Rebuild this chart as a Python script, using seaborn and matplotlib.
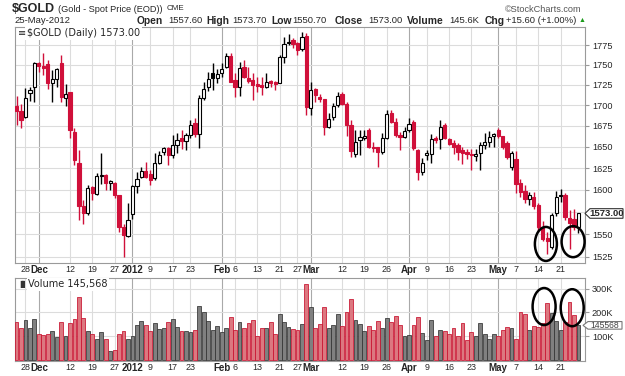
import numpy as np
import pandas as pd
import matplotlib
matplotlib.use("Agg")
import matplotlib.pyplot as plt
import matplotlib.ticker as mticker
from matplotlib.patches import Ellipse, Polygon
import seaborn as sns

# ---------------- data ----------------
holidays = ['2011-11-24', '2011-12-26', '2012-01-02', '2012-01-16',
            '2012-02-20', '2012-04-06']
start_date, end_date = '2011-11-23', '2012-05-25'

opens = [1699, 1693, 1685.7, 1715, 1722.3, 1752, 1748.5, 1751, 1727.3, 1732,
         1752, 1709, 1716, 1668, 1631, 1581, 1573, 1603.5, 1595.6, 1616.2,
         1617.3, 1608, 1608, 1594.4, 1557.4, 1547.5, 1572, 1604.6, 1615, 1622,
         1618.5, 1613, 1631, 1643.5, 1649, 1640.5, 1652.3, 1660.6, 1657, 1664,
         1678.5, 1665, 1708.8, 1722, 1739.8, 1734, 1740, 1747, 1761, 1731,
         1722, 1747.5, 1734, 1731, 1726, 1724.8, 1722.3, 1729.7, 1728.5, 1727.3,
         1760, 1777.5, 1781.4, 1777.5, 1770, 1786.5, 1696.5, 1720, 1710, 1708,
         1673.6, 1685.8, 1700.3, 1713.7, 1701.5, 1676, 1641.7, 1658.2, 1660, 1670,
         1650.3, 1650, 1643.5, 1660.6, 1690.5, 1679.6, 1664, 1661.8, 1670, 1679.6,
         1646.4, 1620.7, 1640.5, 1641.7, 1661, 1659.4, 1676, 1659.4, 1654.7, 1652.3,
         1646.4, 1643.5, 1642, 1639.5, 1643, 1652.3, 1656, 1663, 1670, 1663,
         1654.7, 1626.6, 1636, 1608, 1599, 1589.8, 1592, 1583, 1557.4, 1546,
         1536, 1573, 1592.5, 1594, 1567.5, 1566.3, 1557.6]
highs = [1711, 1701.5, 1721, 1722, 1754, 1754, 1765, 1756, 1743.4, 1746,
         1762, 1726, 1716, 1672, 1646, 1588.7, 1605, 1604.6, 1619.6, 1643,
         1618.5, 1611, 1609, 1594.4, 1560.7, 1585.3, 1606, 1620.8, 1626.6, 1632.4,
         1623, 1643, 1645, 1650, 1650, 1664, 1666, 1670, 1667, 1682,
         1684, 1712.5, 1728.5, 1741, 1752, 1745, 1752.5, 1765, 1765, 1740,
         1754, 1756, 1747.5, 1740, 1735, 1735, 1740, 1731, 1729.7, 1762.3,
         1785, 1789, 1784, 1779, 1791.5, 1790, 1728.5, 1721, 1714, 1708,
         1690.5, 1702.8, 1716, 1716, 1704, 1682, 1670, 1670, 1670, 1672,
         1655.9, 1650, 1666.5, 1694.2, 1694.2, 1684.5, 1668, 1673.7, 1684.5, 1682,
         1648, 1637, 1646, 1665, 1663, 1682, 1678, 1660, 1658, 1654.7,
         1650, 1648, 1648, 1648, 1656, 1667, 1669, 1666, 1672, 1663,
         1657, 1645, 1645, 1612, 1606, 1597, 1597, 1585, 1564, 1552,
         1574, 1598, 1601, 1596, 1577, 1578.6, 1573.7]
lows = [1676, 1672.5, 1685, 1705, 1704, 1741, 1737, 1720, 1704, 1722.3,
        1704, 1699, 1660.6, 1629, 1566, 1561, 1571, 1588.7, 1594.4, 1607,
        1600, 1600, 1591, 1551.9, 1524.6, 1546.4, 1566.3, 1596.7, 1614, 1614,
        1606, 1611.5, 1630, 1640, 1628.9, 1637, 1643, 1648, 1646, 1661,
        1662, 1648.7, 1706.4, 1717, 1718.6, 1727, 1735, 1746, 1728.5, 1710,
        1711, 1733, 1727, 1706.4, 1716, 1712.5, 1721, 1722.3, 1718.6, 1727.3,
        1752.5, 1775, 1771.2, 1762.3, 1767.4, 1688, 1688, 1704, 1704, 1664,
        1672.4, 1682, 1697.8, 1700.3, 1663, 1638, 1638.3, 1640.5, 1658, 1648.8,
        1643.5, 1626.6, 1642, 1659, 1678, 1661.8, 1646.4, 1660, 1667.7, 1646.4,
        1611.5, 1617, 1634, 1631.5, 1654, 1648, 1659, 1652, 1641, 1634.7,
        1630, 1636, 1623, 1633, 1623, 1647, 1650, 1650, 1660, 1647,
        1636, 1623, 1596, 1592, 1585, 1583, 1577.5, 1552, 1542, 1528,
        1533, 1570, 1586, 1566, 1533, 1555, 1550.7]
closes = [1693, 1682, 1709, 1718.6, 1752, 1748.5, 1746.5, 1727.3, 1732, 1744.6,
          1710, 1713.7, 1670, 1634.7, 1582, 1573.6, 1602.4, 1596.7, 1616, 1617.3,
          1608, 1610.3, 1594.4, 1557.4, 1548.6, 1565.2, 1604.6, 1612.7, 1622, 1615,
          1611.5, 1631, 1640.5, 1648.8, 1640.5, 1652.3, 1658.2, 1657.5, 1664, 1676,
          1665, 1708.8, 1720, 1732, 1733.7, 1738.6, 1745, 1761, 1728.5, 1722,
          1746.2, 1735, 1730, 1724.8, 1723.6, 1722.3, 1728.5, 1727.3, 1726, 1760,
          1776.3, 1779, 1776.3, 1768.7, 1785, 1697.8, 1718.6, 1712.5, 1708, 1673.6,
          1683.3, 1699, 1711.3, 1701.5, 1676, 1645.2, 1655.9, 1661.8, 1663, 1650,
          1649, 1643.5, 1660.6, 1689.3, 1679.6, 1664, 1661.8, 1668.9, 1677.3, 1648.8,
          1620.7, 1631.3, 1642.8, 1659.4, 1658.2, 1674, 1660.4, 1653.5, 1650, 1644,
          1643, 1641.5, 1640.5, 1642, 1652.3, 1656, 1662, 1665.3, 1663, 1650,
          1638, 1642.8, 1606.9, 1597, 1589, 1594.4, 1582, 1557.4, 1544.2, 1542,
          1571, 1592, 1594, 1568.5, 1562, 1557.4, 1573.0]
prior_close = 1702.0
volumes_k = [161, 133, 168, 133, 171, 108, 103, 111, 123, 97,
             161, 100, 154, 171, 265, 175, 123, 108, 90, 116,
             86, 36, 43, 108, 123, 90, 100, 147, 165, 147,
             123, 157, 131, 133, 158, 171, 140, 123, 123, 119,
             126, 229, 203, 164, 126, 144, 116, 133, 182, 128,
             158, 136, 154, 168, 100, 136, 133, 158, 111, 192,
             161, 140, 130, 126, 150, 320, 222, 133, 151, 222,
             136, 147, 192, 144, 201, 256, 168, 151, 123, 144,
             128, 165, 133, 175, 161, 185, 147, 100, 103, 147,
             180, 114, 83, 168, 100, 128, 123, 108, 133, 100,
             157, 83, 119, 100, 157, 111, 90, 108, 100, 128,
             140, 136, 87, 203, 195, 128, 144, 140, 154, 242,
             199, 165, 128, 161, 244, 190, 145.568]

tick_dates = ['2011-11-28', '2011-12-01', '2011-12-12', '2011-12-19', '2011-12-27',
              '2012-01-03', '2012-01-09', '2012-01-17', '2012-01-23', '2012-02-01',
              '2012-02-06', '2012-02-13', '2012-02-21', '2012-02-27', '2012-03-01',
              '2012-03-12', '2012-03-19', '2012-03-26', '2012-04-02', '2012-04-09',
              '2012-04-16', '2012-04-23', '2012-05-01', '2012-05-07', '2012-05-14',
              '2012-05-21']
tick_labels = ['28', 'Dec', '12', '19', '27', '2012', '9', '17', '23', 'Feb',
               '6', '13', '21', '27', 'Mar', '12', '19', '26', 'Apr', '9',
               '16', '23', 'May', '7', '14', '21']
major_labels = ['Dec', '2012', 'Feb', 'Mar', 'Apr', 'May']
price_ticks = [1525, 1550, 1575, 1600, 1625, 1650, 1675, 1700, 1725, 1750, 1775]
vol_ticks = [100000, 200000, 300000]
vol_tick_labels = ['100K', '200K', '300K']

# circled areas (trading-day index, value)
price_marks = [(118.7, 1539.0), (124.8, 1541.5)]
vol_marks = [(118.3, 225000), (124.6, 220000)]

header_title = '$GOLD'
header_sub = '(Gold - Spot Price (EOD))'
header_exch = 'CME'
header_date = '25-May-2012'
header_items = [('Open', '1557.60'), ('High', '1573.70'), ('Low', '1550.70'),
                ('Close', '1573.00'), ('Volume', '145.6K'), ('Chg', '+15.60 (+1.00%)')]
price_legend = '$GOLD (Daily) 1573.00'
vol_legend = 'Volume 145,568'

# ---------------- style ----------------
sns.set_style('white')
plt.rcParams['font.family'] = ['Liberation Sans', 'DejaVu Sans']

RED = '#d0103a'
RED_FILL = '#dc7880'
GRAY_FILL = '#808080'
GRID = '#dcdcdc'
GRID_DARK = '#a9a9a9'
SPINE = '#9a9a9a'

W, H = 625, 376
fig = plt.figure(figsize=(W / 100, H / 100), dpi=100)
fig.patch.set_facecolor('white')


def fx(x):
    return x / W


def fy(y):
    return 1 - y / H


ax = fig.add_axes([fx(15), fy(263), fx(585) - fx(15), fy(27) - fy(263)])
axv = fig.add_axes([fx(15), fy(361), fx(585) - fx(15), fy(278) - fy(361)])

dates = pd.bdate_range(start_date, end_date)
dates = dates[~dates.isin(pd.to_datetime(holidays))]
n = len(dates)
idx = np.arange(n)
o = np.array(opens, float)
h = np.array(highs, float)
l = np.array(lows, float)
c = np.array(closes, float)
prev = np.concatenate([[prior_close], c[:-1]])
down = c < prev
col = np.where(down, RED, 'black')
hollow = c >= o

tick_pos = [dates.get_loc(pd.Timestamp(d)) for d in tick_dates]
xlim = (-0.34, 127.47)

# ---------------- price panel ----------------
ax.set_yscale('log')
ax.set_xlim(*xlim)
ax.set_ylim(1518.1, 1798.1)
for p, lab in zip(tick_pos, tick_labels):
    ax.axvline(p, color=GRID_DARK if lab in major_labels else GRID, lw=0.8, zorder=1)
    axv.axvline(p, color=GRID_DARK if lab in major_labels else GRID, lw=0.8, zorder=1)
for t in price_ticks:
    ax.axhline(t, color=GRID, lw=0.8, zorder=1)

ax.vlines(idx, l, h, colors=col, lw=1.0, zorder=3)
body_bottom = np.minimum(o, c)
body_h = np.maximum(np.abs(c - o), 0.4)
ax.bar(idx, body_h, bottom=body_bottom, width=0.72,
       color=np.where(hollow, 'white', col), edgecolor=col, linewidth=0.8, zorder=4)

# the last-close callout sits over the nearest price label, as in the original
hidden_tick = min(price_ticks, key=lambda t: abs(t - c[-1]))
ax.yaxis.set_major_locator(mticker.FixedLocator(price_ticks))
ax.yaxis.set_major_formatter(mticker.FixedFormatter(
    ['' if t == hidden_tick else str(t) for t in price_ticks]))
ax.yaxis.set_minor_locator(mticker.NullLocator())
ax.yaxis.tick_right()
ax.tick_params(axis='y', which='both', length=3, width=0.8, color=SPINE, pad=2, labelsize=6.6)
ax.set_xticks(tick_pos)
ax.set_xticklabels(tick_labels)
ax.tick_params(axis='x', length=0, pad=1.5, labelsize=6.4)
for lab in ax.get_xticklabels():
    if lab.get_text() in major_labels:
        lab.set_fontweight('bold')
        lab.set_fontsize(7)
for s in ax.spines.values():
    s.set_color(SPINE)
    s.set_linewidth(0.8)
ax.set_xlabel('')
ax.set_ylabel('')

# ---------------- volume panel ----------------
vdf = pd.DataFrame({'i': idx, 'vol': np.array(volumes_k) * 1000,
                    'dir': np.where(down, 'down', 'up')})
sns.barplot(data=vdf, x='i', y='vol', hue='dir', hue_order=['up', 'down'],
            palette={'up': GRAY_FILL, 'down': RED_FILL}, native_scale=True,
            width=0.86, dodge=False, errorbar=None, legend=False, saturation=1,
            ax=axv, zorder=3)
for p in axv.patches:
    fc = p.get_facecolor()
    p.set_edgecolor('#c8102e' if fc[0] > fc[2] + 0.1 else '#333333')
    p.set_linewidth(0.55)
axv.set_xlim(*xlim)
axv.set_ylim(-5000, 345500)
for t in vol_ticks:
    axv.axhline(t, color=GRID, lw=0.8, zorder=1)
axv.yaxis.tick_right()
axv.set_yticks(vol_ticks)
axv.set_yticklabels(vol_tick_labels)
axv.tick_params(axis='y', length=3, width=0.8, color=SPINE, pad=2, labelsize=6.6)
axv.set_xticks(tick_pos)
axv.set_xticklabels(tick_labels)
axv.tick_params(axis='x', length=0, pad=1.5, labelsize=6.4)
for lab in axv.get_xticklabels():
    if lab.get_text() in major_labels:
        lab.set_fontweight('bold')
        lab.set_fontsize(7)
for s in axv.spines.values():
    s.set_color(SPINE)
    s.set_linewidth(0.8)
axv.set_xlabel('')
axv.set_ylabel('')

# ---------------- texts ----------------
fig.text(fx(12), fy(8.5), header_title, fontsize=9, fontweight='bold', va='center')
fig.text(fx(58), fy(9), header_sub, fontsize=6.6, va='center')
fig.text(fx(167), fy(9), header_exch, fontsize=5.8, va='center')
fig.text(fx(505), fy(9), '\u00a9StockCharts.com', fontsize=6.6, va='center', color='#555555')
fig.text(fx(14), fy(20.5), header_date, fontsize=6.8, va='center')
item_x = [(137, 168), (206, 232), (271, 292), (335, 368), (407, 449), (485, 506)]
for (lab, val), (xl, xv) in zip(header_items, item_x):
    fig.text(fx(xl), fy(20.5), lab, fontsize=7.4, fontweight='bold', va='center')
    fig.text(fx(xv), fy(20.5), val, fontsize=6.8, va='center')
fig.text(fx(579), fy(20), '\u25b2', fontsize=5, va='center', color='#1a9a1a')

ax.text(fx(27 - 15) / (fx(585) - fx(15)), 1 - (33 - 27) / (263 - 27), price_legend,
        transform=ax.transAxes, fontsize=7, family=['DejaVu Sans'], va='center', ha='left',
        zorder=6, bbox=dict(fc='white', ec='none', pad=1.2))
ax.text(0.0045, 1 - (33 - 27) / (263 - 27), '\u2261', transform=ax.transAxes,
        fontsize=7, family=['DejaVu Sans'], va='center', ha='left', zorder=7)
axv.text(fx(28 - 15) / (fx(585) - fx(15)), 1 - (284.5 - 278) / (361 - 278), vol_legend,
         transform=axv.transAxes, fontsize=7, family=['DejaVu Sans'], va='center', ha='left',
         zorder=6, bbox=dict(fc='white', ec='none', pad=1.0))
axv.text(0.004, 1 - (284.5 - 278) / (361 - 278), '\u2590\u258c', transform=axv.transAxes,
         fontsize=5, family=['DejaVu Sans'], va='center', ha='left', zorder=7, color='#333333')

# value callouts on the right axis
fig.canvas.draw()


def to_px(axis, x, y):
    dx, dy = axis.transData.transform((x, y))
    return dx, H - dy


_, yc = to_px(ax, idx[-1], c[-1])
poly = Polygon([(fx(585), fy(yc)), (fx(590), fy(yc - 4.8)), (fx(623), fy(yc - 4.8)),
                (fx(623), fy(yc + 4.8)), (fx(590), fy(yc + 4.8))], closed=True,
               transform=fig.transFigure, fc='white', ec='#333333', lw=0.8, zorder=5)
fig.add_artist(poly)
fig.text(fx(606.5), fy(yc), f'{c[-1]:.2f}', fontsize=6.8, fontweight='bold',
         ha='center', va='center', zorder=6)

_, yv = to_px(axv, idx[-1], volumes_k[-1] * 1000)
polyv = Polygon([(fx(583), fy(yv)), (fx(588), fy(yv - 3.8)), (fx(622), fy(yv - 3.8)),
                 (fx(622), fy(yv + 3.8)), (fx(588), fy(yv + 3.8))], closed=True,
                transform=fig.transFigure, fc='white', ec='#777777', lw=0.8, zorder=5)
fig.add_artist(polyv)
fig.text(fx(605), fy(yv), f'{int(round(volumes_k[-1] * 1000))}', fontsize=6.2,
         ha='center', va='center', color='#444444', zorder=6)

# ellipses highlighting the two lows
for (xi, yi), (w, hh) in zip(price_marks, [(22, 34), (23, 31)]):
    px, py = to_px(ax, xi, yi)
    fig.add_artist(Ellipse((fx(px), fy(py)), w / W, hh / H, transform=fig.transFigure,
                           fill=False, ec='black', lw=1.8, zorder=6))
for (xi, yi), (w, hh) in zip(vol_marks, [(23, 37), (23, 37)]):
    px, py = to_px(axv, xi, yi)
    fig.add_artist(Ellipse((fx(px), fy(py)), w / W, hh / H, transform=fig.transFigure,
                           fill=False, ec='black', lw=1.8, zorder=6))

fig.savefig('out.png', dpi=100, facecolor='white')
